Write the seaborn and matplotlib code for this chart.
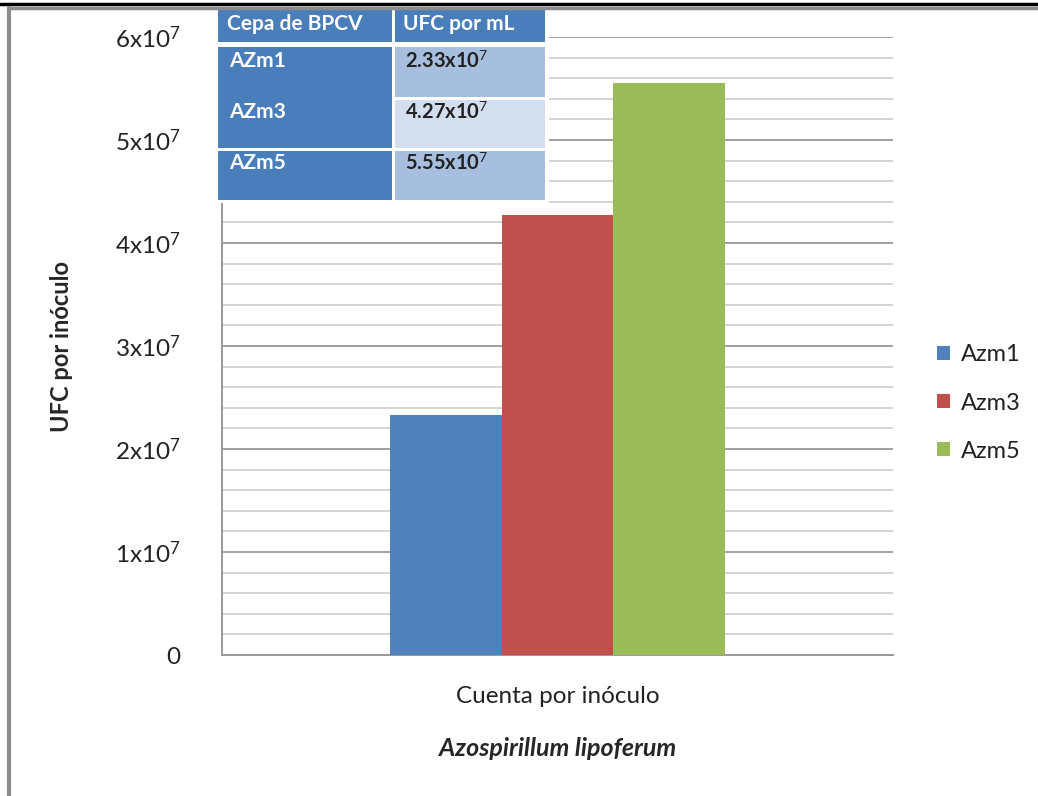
import numpy as np
import pandas as pd
import matplotlib
matplotlib.use("Agg")
import matplotlib.pyplot as plt
from matplotlib.ticker import MultipleLocator
from matplotlib.patches import Rectangle
from matplotlib.lines import Line2D
import seaborn as sns

# ---- data ----
category = ["Cuenta por inóculo"]
strains = ["Azm1", "Azm3", "Azm5"]
values = [2.33e7, 4.27e7, 5.55e7]
ytick_vals = [0, 1e7, 2e7, 3e7, 4e7, 5e7, 6e7]
ytick_labels = ["0", "1x10$^{7}$", "2x10$^{7}$", "3x10$^{7}$", "4x10$^{7}$", "5x10$^{7}$", "6x10$^{7}$"]
table_header = ["Cepa de BPCV", "UFC por mL"]
table_strains = ["AZm1", "AZm3", "AZm5"]
table_values = ["2.33x10$^{7}$", "4.27x10$^{7}$", "5.55x10$^{7}$"]
colors = ["#4F81BD", "#C0504D", "#9BBB59"]

sns.set_style("white")
plt.rcParams["font.family"] = ["Lato", "DejaVu Sans"]
plt.rcParams["mathtext.fontset"] = "custom"
plt.rcParams["mathtext.rm"] = "Lato"
plt.rcParams["mathtext.it"] = "Lato:italic"
plt.rcParams["mathtext.bf"] = "Lato:bold"

df = pd.DataFrame({"cat": category * len(strains), "strain": strains, "val": values})

W, H = 1038, 796
fig = plt.figure(figsize=(W / 100, H / 100), dpi=100)
ax = fig.add_axes([222 / W, 1 - 655 / H, (893 - 222) / W, (655 - 37) / H])

sns.barplot(data=df, x="cat", y="val", hue="strain", palette=colors, width=0.5,
            saturation=1, ax=ax, legend=True, zorder=3)
for p in ax.patches:
    p.set_edgecolor("none")

ax.set_ylim(0, 6e7)
ax.set_xlim(-0.5, 0.5)
ax.set_yticks(ytick_vals)
ax.set_yticklabels(ytick_labels, fontsize=17.5, color="#222222")
ax.yaxis.set_minor_locator(MultipleLocator(2e6))
ax.tick_params(axis="y", which="both", length=0, pad=30)
ax.tick_params(axis="x", length=0, pad=22, labelsize=17.5, labelcolor="#222222")
ax.grid(axis="y", which="minor", color="#d4d4d4", lw=1.4, zorder=0)
ax.grid(axis="y", which="major", color="#a0a0a0", lw=1.4, zorder=0)
ax.set_axisbelow(True)
for s in ["top", "right"]:
    ax.spines[s].set_visible(False)
for s in ["left", "bottom"]:
    ax.spines[s].set_color("#999999")
    ax.spines[s].set_linewidth(1.4)

ax.set_ylabel("UFC por inóculo", fontsize=17, fontweight="bold")
ax.yaxis.set_label_coords(-(222 - 73) / (893 - 222), 0.5)
ax.set_xlabel("Azospirillum lipoferum", fontsize=18, fontweight="bold", style="italic", labelpad=22)

leg = ax.legend(loc="center left", bbox_to_anchor=(916 / W, 1 - 403 / H), bbox_transform=fig.transFigure,
                frameon=False, fontsize=17, handlelength=0.55, handleheight=0.55, handletextpad=0.45,
                labelspacing=1.15, title=None)
for t in leg.get_texts():
    t.set_color("#222222")

# ---- table overlay ----
def frect(x0, y0, x1, y1, color):
    fig.patches.append(Rectangle((x0 / W, 1 - y1 / H), (x1 - x0) / W, (y1 - y0) / H,
                                 transform=fig.transFigure, facecolor=color, edgecolor="none", zorder=5))

frect(214, 8, 549, 203, "white")
frect(218, 10, 392, 42, "#4A7EBB")
frect(395, 10, 545, 42, "#4A7EBB")
frect(218, 47, 392, 148, "#4A7EBB")
frect(218, 151, 392, 200, "#4A7EBB")
frect(395, 47, 545, 97, "#A7BFDE")
frect(395, 100, 545, 148, "#D3DFEE")
frect(395, 151, 545, 200, "#A7BFDE")

def ftext(x, y, s, **kw):
    fig.text(x / W, 1 - y / H, s, zorder=6, va="center", ha="left", **kw)

ftext(227, 24, table_header[0], color="white", fontsize=15, fontweight="bold")
ftext(403, 24, table_header[1], color="white", fontsize=15, fontweight="bold")
for i, (s, v) in enumerate(zip(table_strains, table_values)):
    yy = 61 + i * 51
    ftext(229, yy, s, color="white", fontsize=15, fontweight="bold")
    ftext(405, yy, v, color="#222222", fontsize=14.5, fontweight="bold")

# ---- outer frame ----
fig.lines.append(Line2D([0, 1], [1 - 4 / H, 1 - 4 / H], transform=fig.transFigure, color="black", lw=2.5, zorder=7))
fig.lines.append(Line2D([8 / W, 1], [1 - 8 / H, 1 - 8 / H], transform=fig.transFigure, color="#8c8c8c", lw=2.5, zorder=7))
fig.lines.append(Line2D([9 / W, 9 / W], [0, 1 - 8 / H], transform=fig.transFigure, color="#8c8c8c", lw=3, zorder=7))

fig.savefig("out.png", dpi=100, facecolor="white")
